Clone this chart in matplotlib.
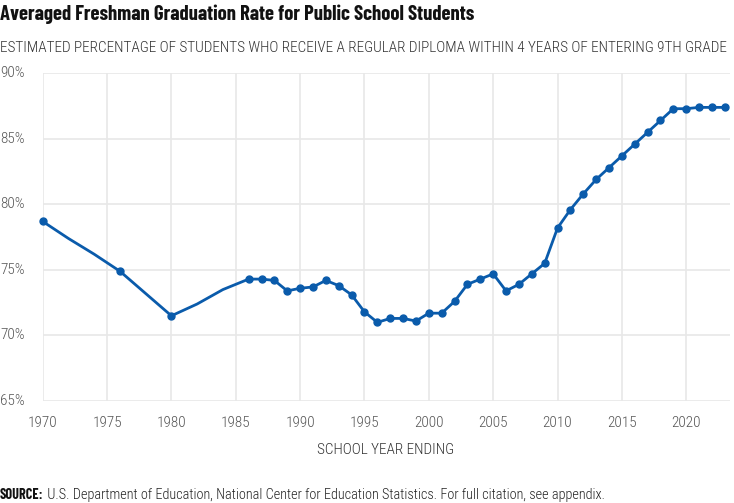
"""
Averaged Freshman Graduation Rate line chart -> out.png
"""
import matplotlib
matplotlib.use("Agg")
import matplotlib.pyplot as plt
from matplotlib import font_manager

# values (kinks without dots are years with no marker)
YEARS = [1970, 1972, 1974, 1976, 1978, 1980, 1982, 1984,
         1986, 1987, 1988, 1989, 1990, 1991, 1992, 1993, 1994, 1995,
         1996, 1997, 1998, 1999, 2000, 2001, 2002, 2003, 2004, 2005,
         2006, 2007, 2008, 2009, 2010, 2011, 2012, 2013, 2014, 2015,
         2016, 2017, 2018, 2019, 2020, 2021, 2022, 2023]
RATES = [78.7, 77.4, 76.2, 74.9, 73.2, 71.5, 72.4, 73.5,
         74.3, 74.3, 74.2, 73.4, 73.6, 73.7, 74.2, 73.8, 73.1, 71.8,
         71.0, 71.3, 71.3, 71.1, 71.7, 71.7, 72.6, 73.9, 74.3, 74.7,
         73.4, 73.9, 74.7, 75.5, 78.2, 79.6, 80.8, 81.9, 82.8, 83.7,
         84.6, 85.5, 86.4, 87.3, 87.3, 87.4, 87.4, 87.4]
NO_DOT_YEARS = [1972, 1974, 1978, 1982, 1984]

X_TICKS = list(range(1970, 2021, 5))
Y_TICKS = [65, 70, 75, 80, 85, 90]

TITLE = "Averaged Freshman Graduation Rate for Public School Students"
SUBTITLE = ("ESTIMATED PERCENTAGE OF STUDENTS WHO RECEIVE A REGULAR DIPLOMA "
            "WITHIN 4 YEARS OF ENTERING 9TH GRADE")
XLABEL = "SCHOOL YEAR ENDING"
SOURCE_HEAD = "SOURCE:"
SOURCE_BODY = (" U.S. Department of Education, National Center for Education "
               "Statistics. For full citation, see appendix.")

LINE_COLOR = "#0a5bab"
GRID_COLOR = "#e8e8e8"
TEXT_GRAY = "#555555"

names = {f.name for f in font_manager.fontManager.ttflist}


def pick(*cands):
    return next((n for n in cands if n in names), "DejaVu Sans")


FONT = pick("Roboto Condensed", "Fira Sans Condensed", "IBM Plex Sans Condensed")
TITLE_FONT = pick("Barlow Condensed", "Sofia Sans Condensed", "Roboto Condensed")
plt.rcParams["font.family"] = [FONT, "DejaVu Sans"]


def fit_width(fig, t, target_px):
    # scale a text's font size so that it spans target_px
    fig.canvas.draw()
    w = t.get_window_extent().width
    t.set_fontsize(t.get_fontsize() * target_px / w)


def main():
    W, H = 734, 503
    fig = plt.figure(figsize=(W / 100, H / 100), dpi=100)
    ax = fig.add_axes([42.7 / W, 1 - 401 / H, (730 - 42.7) / W, (401 - 73.3) / H])

    marks = [i for i, y in enumerate(YEARS) if y not in NO_DOT_YEARS]
    ax.plot(YEARS, RATES, color=LINE_COLOR, lw=2.0, marker="o", ms=5,
            markevery=marks, clip_on=False, zorder=3, solid_joinstyle="round")

    ax.set_xlim(1970, 2023.4)
    ax.set_ylim(65, 90)
    ax.set_xticks(X_TICKS)
    ax.set_yticks(Y_TICKS)
    ax.set_xticklabels([str(x) for x in X_TICKS])
    ax.set_yticklabels([])
    ax.grid(True, color=GRID_COLOR, lw=1.2)
    ax.set_axisbelow(True)
    for s in ax.spines.values():
        s.set_visible(False)
    ax.tick_params(length=0, labelsize=11, labelcolor=TEXT_GRAY, pad=11)
    for lab in ax.get_xticklabels():
        lab.set_fontweight("light")

    # y tick labels sit flush with the left edge of the figure
    for v in Y_TICKS:
        y_px = 401 - (v - 65) / 25 * (401 - 73.3)
        fig.text(0, 1 - y_px / H, f"{v}%", ha="left", va="center",
                 fontsize=11, color=TEXT_GRAY, fontweight="light")

    fig.text(386 / W, 1 - 450 / H, XLABEL, ha="center", va="center",
             fontsize=11, color="#333333", fontweight="light")

    title = fig.text(0, 1 - 14 / H, TITLE, ha="left", va="center", fontsize=18,
                     fontweight="bold", color="#111111",
                     family=[TITLE_FONT, "DejaVu Sans"])
    fit_width(fig, title, 476)
    sub = fig.text(0, 1 - 48 / H, SUBTITLE, ha="left", va="center",
                   fontsize=11, color="#333333", fontweight="light")
    fit_width(fig, sub, 728)

    head = fig.text(0, 1 - 495 / H, SOURCE_HEAD, ha="left", va="center",
                    fontsize=10, fontweight="bold", color="#111111",
                    family=[TITLE_FONT, "DejaVu Sans"])
    body = fig.text(0, 1 - 495 / H, SOURCE_BODY, ha="left", va="center",
                    fontsize=10, color="#222222", fontweight="light")
    fig.canvas.draw()
    total = head.get_window_extent().width + body.get_window_extent().width
    scale = 604 / total
    head.set_fontsize(10 * scale)
    body.set_fontsize(10 * scale)
    fig.canvas.draw()
    body.set_x(head.get_window_extent().x1 / W)

    fig.savefig("out.png", dpi=100)
    plt.close(fig)


if __name__ == "__main__":
    main()
